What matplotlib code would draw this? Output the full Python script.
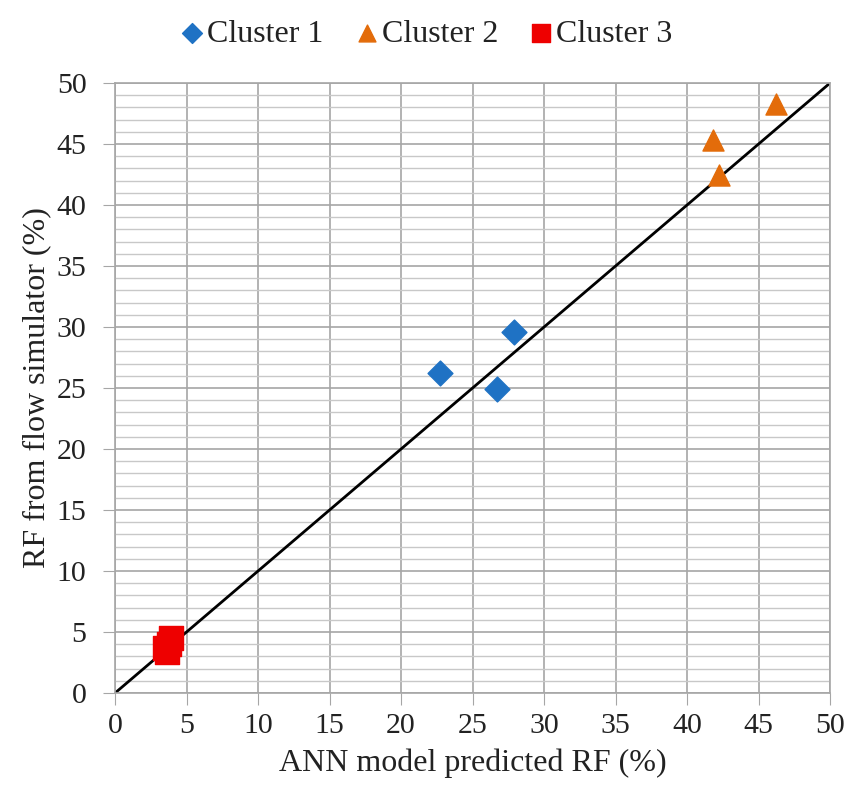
import matplotlib
matplotlib.use('Agg')
import matplotlib.pyplot as plt
import numpy as np

plt.rcParams['font.family'] = ['Liberation Serif', 'DejaVu Serif']

# values
c1_x = [22.7, 27.9, 26.7]
c1_y = [26.2, 29.6, 24.9]
c2_x = [46.2, 41.8, 42.2]
c2_y = [48.3, 45.3, 42.5]
c3_x = [3.5, 3.9, 3.8, 3.6]
c3_y = [3.7, 4.5, 4.0, 3.4]
ticks = [0, 5, 10, 15, 20, 25, 30, 35, 40, 45, 50]

fig = plt.figure(figsize=(8.47, 7.87), dpi=100)
ax = fig.add_axes([0.1358, 0.1194, 0.8442, 0.7751])

ax.set_xlim(0, 50)
ax.set_ylim(0, 50)
ax.set_xticks(ticks)
ax.set_yticks(ticks)
ax.set_yticks(np.arange(0, 51, 1), minor=True)
ax.grid(True, which='major', color='#a6a6a6', linewidth=1.2)
ax.grid(True, which='minor', axis='y', color='#c8c8c8', linewidth=1.0)
ax.set_axisbelow(True)
for s in ax.spines.values():
    s.set_color('#a6a6a6')
    s.set_linewidth(1.2)
ax.tick_params(which='major', length=8.5, color='#a6a6a6', labelsize=21.5,
               labelcolor='#222222')
ax.tick_params(axis='x', pad=6)
ax.tick_params(axis='y', pad=12)
ax.tick_params(which='minor', length=0)

ax.plot([0, 50], [0, 50], color='black', linewidth=2, zorder=2)
ax.scatter(c1_x, c1_y, marker='D', s=160, color='#1f72c4', label='Cluster 1', zorder=3)
ax.scatter(c2_x, c2_y, marker='^', s=230, color='#e36c0a', label='Cluster 2', zorder=3)
ax.scatter(c3_x, c3_y, marker='s', s=290, color='#ee0000', label='Cluster 3', zorder=3)

ax.set_xlabel('ANN model predicted RF (%)', fontsize=23, labelpad=7, color='#222222')
ax.set_ylabel('RF from flow simulator (%)', fontsize=23, labelpad=4, color='#222222')

fig.legend(loc='upper center', bbox_to_anchor=(0.504, 1.012), ncol=3, frameon=False,
           fontsize=23, handlelength=0.7, handletextpad=0.12, columnspacing=1.0,
           markerscale=0.8, labelcolor='#222222')

fig.savefig('out.png', dpi=100)
